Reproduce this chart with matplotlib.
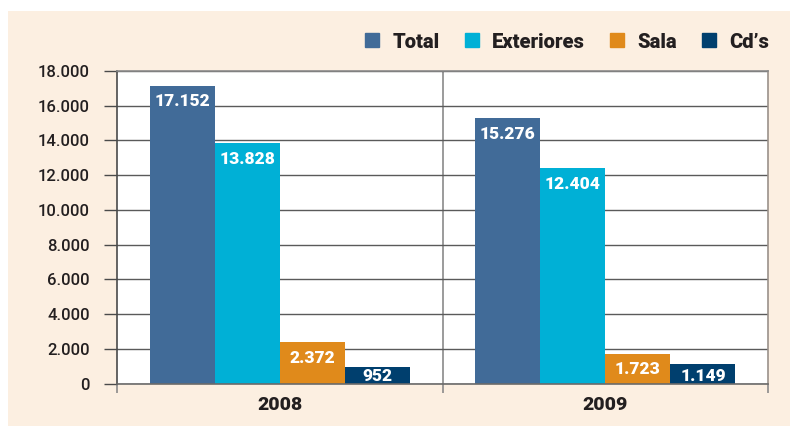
import matplotlib.pyplot as plt
import numpy as np
from matplotlib.lines import Line2D
from matplotlib.patches import Rectangle

plt.rcParams['font.family'] = ['Roboto', 'DejaVu Sans']

# datos
years = ['2008', '2009']
series = ['Total', 'Exteriores', 'Sala', 'Cd\u2019s']
total = [17152, 15276]
exteriores = [13828, 12404]
sala = [2372, 1723]
cds = [952, 1149]
colors = ['#416b98', '#00b0d6', '#e08a1b', '#003f6e']

values = [total, exteriores, sala, cds]
txt = '#231f20'

def fmt(v):
    return f'{int(v):,}'.replace(',', '.')

fig = plt.figure(figsize=(7.9, 4.28), dpi=100)
fig.patch.set_facecolor('white')
# fondo beige
fig.patches.append(Rectangle((8 / 790, 2 / 428), 782 / 790, 415 / 428,
                             transform=fig.transFigure, facecolor='#fcefe1',
                             edgecolor='none', zorder=-10))

ax = fig.add_axes([117 / 790, 44.5 / 428, 651 / 790, 312.5 / 428])
ax.set_facecolor('white')

x = np.arange(len(years))
w = 0.2
for i, (name, vals, c) in enumerate(zip(series, values, colors)):
    pos = x + (i - 1.5) * w
    ax.bar(pos, vals, width=w, color=c, label=name, zorder=3)
    for p, v in zip(pos, vals):
        ax.text(p, max(v - 900, 430), fmt(v), ha='center', va='center',
                color='white', fontsize=12.5, fontweight='heavy', zorder=4)

ax.set_ylim(0, 18000)
ax.set_xlim(-0.5, 1.5)
ax.set_yticks(np.arange(0, 18001, 2000))
ax.set_yticklabels([fmt(t) for t in np.arange(0, 18001, 2000)])
ax.yaxis.grid(True, color='#5a5a5a', lw=1, zorder=1)
ax.tick_params(axis='y', length=9.5, width=1, color='#4a4a4a', pad=10,
               labelsize=12, labelcolor=txt)
for lb in ax.get_yticklabels():
    lb.set_fontweight('medium')

ax.set_xticks([-0.5, 0.5, 1.5])
ax.set_xticklabels([])
ax.set_xticks(x, minor=True)
ax.set_xticklabels(years, minor=True, fontsize=14, fontweight='heavy', color=txt)
ax.tick_params(axis='x', which='major', length=6.5, width=1.2, color='#8a8a8a')
ax.tick_params(axis='x', which='minor', length=0, pad=9)
ax.axvline(0.5, color='#8a8a8a', lw=1.2, zorder=1)

ax.spines['left'].set_color('#4a4a4a')
ax.spines['bottom'].set_color('#6a6a6a')
ax.spines['top'].set_color('#8a8a8a')
ax.spines['right'].set_color('#9a918a')
for s in ax.spines.values():
    s.set_linewidth(1.2)
    s.set_zorder(5)

handles = [Line2D([], [], marker='s', ls='none', markersize=10.5, color=c) for c in colors]
fig.legend(handles, series, loc='center right', bbox_to_anchor=(779 / 790, 1 - 42 / 428),
           ncol=4, frameon=False, handlelength=0.8, handletextpad=0.6,
           columnspacing=1.2, borderpad=0,
           prop={'weight': 'heavy', 'size': 14.5}, labelcolor=txt)

plt.savefig('out.png', dpi=100, facecolor=fig.get_facecolor())
